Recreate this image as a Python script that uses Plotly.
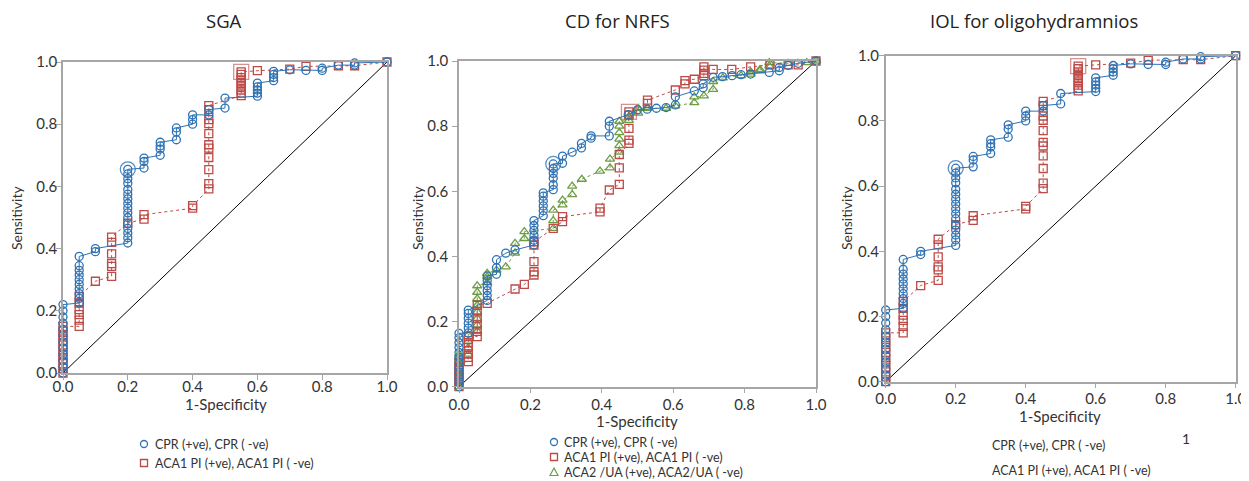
import plotly.graph_objects as go

W, H = 1249, 481
OFF = 8  # default body margin of the html page
FW, FH = W - OFF, H - OFF

# ---------------- DATA ----------------
# SGA (also used for IOL for oligohydramnios - identical curves)
sga_cpr_x = [0]*12 + [0.05]*10 + [0.10]*2 + [0.20]*16 + [0.25]*3 + [0.30]*4 + [0.35]*3 + [0.40]*3 \
    + [0.45]*2 + [0.50]*2 + [0.60]*5 + [0.65]*4 + [0.70, 0.75, 0.80, 0.80, 0.85, 0.90, 0.90, 1.0]
sga_cpr_y = [0, 0.02, 0.04, 0.06, 0.08, 0.10, 0.12, 0.14, 0.16, 0.18, 0.20, 0.22,
             0.225, 0.24, 0.255, 0.27, 0.285, 0.30, 0.315, 0.33, 0.345, 0.375,
             0.39, 0.40,
             0.418, 0.435, 0.45, 0.465, 0.48, 0.50, 0.515, 0.53, 0.545, 0.56, 0.575, 0.59, 0.61, 0.625, 0.64, 0.655,
             0.659, 0.68, 0.691,
             0.70, 0.72, 0.73, 0.742,
             0.75, 0.775, 0.788,
             0.80, 0.815, 0.83,
             0.83, 0.847,
             0.852, 0.884,
             0.89, 0.90, 0.91, 0.92, 0.932,
             0.94, 0.95, 0.96, 0.97,
             0.975, 0.973, 0.973, 0.98, 0.99, 0.99, 0.997, 1.0]
sga_aca1_x = [0]*11 + [0.05]*6 + [0.10] + [0.15]*6 + [0.20] + [0.25]*2 + [0.40]*2 + [0.45]*11 \
    + [0.55]*9 + [0.60, 0.70, 0.75, 0.85, 0.90, 1.0]
sga_aca1_y = [0, 0.015, 0.03, 0.045, 0.06, 0.075, 0.09, 0.105, 0.12, 0.135, 0.15,
              0.15, 0.17, 0.188, 0.204, 0.225, 0.246,
              0.295,
              0.311, 0.343, 0.352, 0.383, 0.42, 0.437,
              0.482,
              0.495, 0.509,
              0.53, 0.538,
              0.592, 0.609, 0.654, 0.693, 0.723, 0.734, 0.77, 0.802, 0.815, 0.847, 0.86,
              0.892, 0.90, 0.91, 0.92, 0.93, 0.94, 0.95, 0.96, 0.968,
              0.972, 0.977, 0.986, 0.988, 0.988, 1.0]
sga_cpr_opt = (0.20, 0.655)
sga_aca1_opt = (0.55, 0.968)

# CD for NRFS
nrfs_cpr_x = [0]*12 + [0.026]*6 + [0.079]*6 + [0.105]*3 + [0.131, 0.157] + [0.21]*6 + [0.236]*6 \
    + [0.264]*6 + [0.29]*2 + [0.317] + [0.343]*2 + [0.37]*2 + [0.421]*3 \
    + [0.474, 0.50, 0.527, 0.553, 0.58, 0.606, 0.606, 0.659, 0.684, 0.684,
       0.712, 0.738, 0.765, 0.79, 0.817, 0.869, 0.897, 0.897, 0.922, 0.95, 1.0]
nrfs_cpr_y = [0, 0.015, 0.03, 0.045, 0.06, 0.075, 0.09, 0.105, 0.12, 0.135, 0.15, 0.164,
              0.165, 0.18, 0.195, 0.21, 0.225, 0.235,
              0.265, 0.28, 0.295, 0.31, 0.325, 0.34,
              0.345, 0.365, 0.39,
              0.41, 0.42,
              0.435, 0.45, 0.465, 0.48, 0.495, 0.51,
              0.525, 0.54, 0.555, 0.57, 0.585, 0.595,
              0.605, 0.62, 0.64, 0.655, 0.67, 0.684,
              0.686, 0.708, 0.72, 0.733, 0.747, 0.763, 0.77,
              0.77, 0.80, 0.815,
              0.835, 0.85, 0.852, 0.855, 0.857, 0.865, 0.89, 0.908, 0.918, 0.93,
              0.95, 0.952, 0.955, 0.958, 0.96, 0.965, 0.97, 0.98, 0.987, 0.993, 1.0]
nrfs_aca1_x = [0]*6 + [0.026]*6 + [0.051]*6 + [0.079, 0.157, 0.183] + [0.21]*5 + [0.264] + [0.29]*2 \
    + [0.395]*2 + [0.421] + [0.449]*3 + [0.476]*5 + [0.528]*2 + [0.606] + [0.633]*2 + [0.659] \
    + [0.686]*4 + [0.712, 0.764, 0.817, 0.871, 0.922, 0.95, 1.0]
nrfs_aca1_y = [0, 0.015, 0.03, 0.045, 0.06, 0.075,
               0.077, 0.09, 0.10, 0.12, 0.135, 0.154,
               0.154, 0.17, 0.19, 0.21, 0.23, 0.25,
               0.256, 0.30, 0.314,
               0.343, 0.353, 0.384, 0.435, 0.445,
               0.486, 0.507, 0.522, 0.537, 0.548, 0.604,
               0.621, 0.672, 0.713,
               0.747, 0.757, 0.793, 0.834, 0.844,
               0.87, 0.88, 0.911, 0.93, 0.94, 0.944,
               0.955, 0.962, 0.972, 0.982,
               0.974, 0.974, 0.982, 0.988, 0.988, 0.988, 1.0]
nrfs_aca2_x = [0]*8 + [0.026]*4 + [0.051]*8 + [0.079]*3 + [0.105, 0.131] + [0.157]*2 + [0.183]*2 \
    + [0.264]*3 + [0.29]*2 + [0.317]*2 + [0.344, 0.395] + [0.423]*2 + [0.449]*6 + [0.476]*2 \
    + [0.502]*2 + [0.528, 0.58, 0.606] + [0.659]*2 + [0.686] + [0.712]*2 + [0.739, 0.79] \
    + [0.817]*2 + [0.843]*2 + [0.869]*2 + [0.922, 0.974, 1.0]
nrfs_aca2_y = [0, 0.015, 0.03, 0.045, 0.06, 0.075, 0.09, 0.10,
               0.10, 0.12, 0.14, 0.16,
               0.17, 0.19, 0.21, 0.23, 0.25, 0.27, 0.29, 0.31,
               0.32, 0.338, 0.348,
               0.358, 0.368,
               0.41, 0.44, 0.455, 0.476,
               0.486, 0.51, 0.542,
               0.558, 0.573, 0.59, 0.616, 0.637, 0.662, 0.672, 0.699,
               0.72, 0.74, 0.76, 0.78, 0.80, 0.815,
               0.818, 0.83, 0.84, 0.855, 0.855, 0.855, 0.862,
               0.872, 0.89, 0.893, 0.913, 0.937, 0.948, 0.955,
               0.96, 0.967, 0.97, 0.974, 0.985, 0.995, 0.993, 0.995, 1.0]
nrfs_cpr_opt = (0.264, 0.684)
nrfs_aca1_opt = (0.476, 0.844)

titles = ["SGA", "CD for NRFS", "IOL for oligohydramnios"]
legend_cpr = "CPR (+ve), CPR ( -ve)"
legend_aca1 = "ACA1 PI (+ve), ACA1 PI ( -ve)"
legend_aca2 = "ACA2 /UA (+ve), ACA2/UA ( -ve)"
tick_vals = [0, 0.2, 0.4, 0.6, 0.8, 1.0]

# ---------------- STYLE ----------------
BLUE = "#2e72b4"
RED = "#be4a47"
GREEN = "#6d9e45"
AXC = "#a6a6a6"
FONT = "Lato"


def px_x(p):
    return (p - OFF) / FW


def px_y(p):
    return 1 - (p - OFF) / FH


# panel geometry in window pixels: (left, right, top, bottom)
panels = [(63, 387, 62, 373), (459, 816, 61, 386.7), (885.7, 1235.7, 55.7, 381.7)]
xstand = [-6, -1, -2]
ystand = [-4, 1, -3]

fig = go.Figure()


def add_curve(xs, ys, color, symbol, dash, ax):
    fig.add_trace(go.Scatter(
        x=xs, y=ys, mode="lines+markers", xaxis=ax[0], yaxis=ax[1],
        line=dict(color=color, width=1.0, dash=dash),
        marker=dict(symbol=symbol, size=8, color=color, line=dict(width=1.3, color=color)),
        cliponaxis=False, showlegend=False, hoverinfo="skip"))


def add_opt(pt, color, symbol, size, ax, opacity=1.0):
    fig.add_trace(go.Scatter(
        x=[pt[0]], y=[pt[1]], mode="markers", xaxis=ax[0], yaxis=ax[1], opacity=opacity,
        marker=dict(symbol=symbol, size=size, color=color, line=dict(width=1.3, color=color)),
        cliponaxis=False, showlegend=False, hoverinfo="skip"))


def add_diag(ax):
    fig.add_trace(go.Scatter(x=[0, 1], y=[0, 1], mode="lines", xaxis=ax[0], yaxis=ax[1],
                             line=dict(color="black", width=1), showlegend=False,
                             hoverinfo="skip"))


axes = [("x", "y"), ("x2", "y2"), ("x3", "y3")]

# Panel 1
add_diag(axes[0])
add_curve(sga_aca1_x, sga_aca1_y, RED, "square-open", "dot", axes[0])
add_curve(sga_cpr_x, sga_cpr_y, BLUE, "circle-open", "solid", axes[0])
add_opt(sga_cpr_opt, BLUE, "circle-open", 15, axes[0], 0.8)
add_opt(sga_aca1_opt, RED, "square-open", 15, axes[0], 0.6)

# Panel 2
add_diag(axes[1])
add_curve(nrfs_aca2_x, nrfs_aca2_y, GREEN, "triangle-up-open", "dot", axes[1])
add_curve(nrfs_aca1_x, nrfs_aca1_y, RED, "square-open", "dot", axes[1])
add_curve(nrfs_cpr_x, nrfs_cpr_y, BLUE, "circle-open", "solid", axes[1])
add_opt(nrfs_cpr_opt, BLUE, "circle-open", 15, axes[1], 0.8)
add_opt(nrfs_aca1_opt, RED, "square-open", 15, axes[1], 0.6)

# Panel 3
add_diag(axes[2])
add_curve(sga_aca1_x, sga_aca1_y, RED, "square-open", "dot", axes[2])
add_curve(sga_cpr_x, sga_cpr_y, BLUE, "circle-open", "solid", axes[2])
add_opt(sga_cpr_opt, BLUE, "circle-open", 15, axes[2], 0.8)
add_opt(sga_aca1_opt, RED, "square-open", 15, axes[2], 0.6)

layout = dict(width=FW, height=FH, margin=dict(l=0, r=0, t=0, b=0, pad=0, autoexpand=False),
              autosize=False, template="none",
              paper_bgcolor="white", plot_bgcolor="white", showlegend=False,
              font=dict(family=FONT, color="#333333"))

for i, (l, r, t, b) in enumerate(panels):
    sfx = "" if i == 0 else str(i + 1)
    common = dict(range=[0, 1], tickvals=tick_vals, tickformat=".1f", showgrid=False,
                  zeroline=False, showline=True, linecolor=AXC, linewidth=1.5, mirror=True,
                  ticks="outside", ticklen=5, tickcolor=AXC, tickwidth=1, automargin=False,
                  tickfont=dict(family=FONT, size=15, color="#333333"), fixedrange=True)
    layout["xaxis" + sfx] = dict(common, domain=[px_x(l), px_x(r)], anchor="y" + sfx,
                                 ticklabelstandoff=xstand[i])
    layout["yaxis" + sfx] = dict(common, domain=[px_y(b), px_y(t)], anchor="x" + sfx,
                                 ticklabelstandoff=ystand[i])

fig.update_layout(**layout)

ann = []
# Titles
for cx, txt in zip([224, 617, 1034], titles):
    ann.append(dict(x=px_x(cx), y=px_y(21), text=txt, showarrow=False, xref="paper",
                    yref="paper", xanchor="center", yanchor="middle",
                    font=dict(family="Open Sans", size=18.5, color="#222222")))
# x-axis titles
for cx, cy in [(226, 404), (637, 421), (1060, 416)]:
    ann.append(dict(x=px_x(cx), y=px_y(cy), text="1-Specificity", showarrow=False,
                    xref="paper", yref="paper", xanchor="center", yanchor="middle",
                    font=dict(family=FONT, size=15, color="#333333")))
# y-axis titles
for cx, cy in [(17, 218), (418, 218), (847, 218)]:
    ann.append(dict(x=px_x(cx), y=px_y(cy), text="Sensitivity", showarrow=False, textangle=-90,
                    xref="paper", yref="paper", xanchor="center", yanchor="middle",
                    font=dict(family=FONT, size=14, color="#333333")))

LEG = dict(family=FONT, size=12.5, color="#333333")
# legend texts
for tx, ty, txt in [(153, 444, legend_cpr), (153, 463, legend_aca1),
                    (562, 442, legend_cpr), (562, 457, legend_aca1), (562, 472, legend_aca2),
                    (990, 445, legend_cpr), (990, 470, legend_aca1)]:
    ann.append(dict(x=px_x(tx), y=px_y(ty), text=txt, showarrow=False, xref="paper",
                    yref="paper", xanchor="left", yanchor="middle", font=LEG))
ann.append(dict(x=px_x(1186), y=px_y(438), text="1", showarrow=False, xref="paper",
                yref="paper", xanchor="center", yanchor="middle",
                font=dict(family=FONT, size=14, color="#333333")))
fig.update_layout(annotations=ann)

# legend keys
shapes = []


def circle_key(cx, cy, color):
    shapes.append(dict(type="circle", xref="paper", yref="paper",
                       x0=px_x(cx - 3.5), x1=px_x(cx + 3.5), y0=px_y(cy + 3.5), y1=px_y(cy - 3.5),
                       line=dict(color=color, width=1.3)))


def square_key(cx, cy, color):
    shapes.append(dict(type="rect", xref="paper", yref="paper",
                       x0=px_x(cx - 3.5), x1=px_x(cx + 3.5), y0=px_y(cy + 3.5), y1=px_y(cy - 3.5),
                       line=dict(color=color, width=1.3)))


def tri_key(cx, cy, color):
    p = "M {} {} L {} {} L {} {} Z".format(px_x(cx - 4), px_y(cy + 3.5), px_x(cx + 4),
                                           px_y(cy + 3.5), px_x(cx), px_y(cy - 4))
    shapes.append(dict(type="path", xref="paper", yref="paper", path=p,
                       line=dict(color=color, width=1.2)))


circle_key(144, 444, BLUE)
square_key(144, 463, RED)
circle_key(554, 442, BLUE)
square_key(554, 457, RED)
tri_key(554, 472, GREEN)
fig.update_layout(shapes=shapes)

fig.write_html("out.html")
